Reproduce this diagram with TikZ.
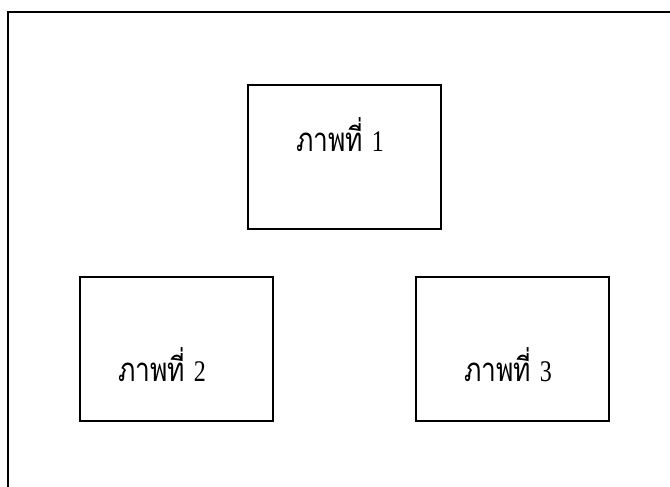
\documentclass[tikz,border=0pt]{standalone}
\usepackage{fontspec}
\usetikzlibrary{calc}
\newfontfamily\thaifont[Script=Thai]{Loma}
\newfontfamily\numfont{Liberation Serif}
\definecolor{wmark}{RGB}{251,240,205}
\begin{document}
\begin{tikzpicture}[x=1pt,y=-1pt,
  framebox/.style={draw=black,line width=1.9pt,rectangle,minimum width=193pt,minimum height=144pt,inner sep=0pt},
  lbl/.style={anchor=base,inner sep=0pt,text=black,xscale=0.8,transform shape}]
\useasboundingbox (0,0) rectangle (670,487);
\fill[white] (0,0) rectangle (670,487);
% faint watermark fan
\begin{scope}
\clip (9,14) rectangle (670,487);
\foreach \a in {12,20,...,168}{
  \pgfmathsetmacro{\b}{\a+5}
  \fill[wmark] ($(240,540)+(\a:110)$) -- ($(240,540)+(\a:270)$) arc[start angle=\a,end angle=\b,radius=270] -- ($(240,540)+(\b:110)$) -- cycle;
}
\end{scope}
% outer frame (left and top sides)
\coordinate (fbl) at (8,487);
\coordinate (ftl) at (8,12);
\coordinate (ftr) at (670,12);
\draw[line width=2pt] (fbl) -- (ftl) -- (ftr);
% boxes
\node[framebox] (b1) at (344.5,157) {};
\node[framebox] (b2) at (176.5,349) {};
\node[framebox] (b3) at (512.5,349) {};
% labels
\node[lbl] (t1) at (340,151) {\thaifont\fontsize{33}{38}\selectfont ภาพที่ \numfont\fontsize{30}{34}\selectfont 1};
\node[lbl] (t2) at (162,381) {\thaifont\fontsize{33}{38}\selectfont ภาพที่ \numfont\fontsize{30}{34}\selectfont 2};
\node[lbl] (t3) at (508,381) {\thaifont\fontsize{33}{38}\selectfont ภาพที่ \numfont\fontsize{30}{34}\selectfont 3};
\end{tikzpicture}
\end{document}
